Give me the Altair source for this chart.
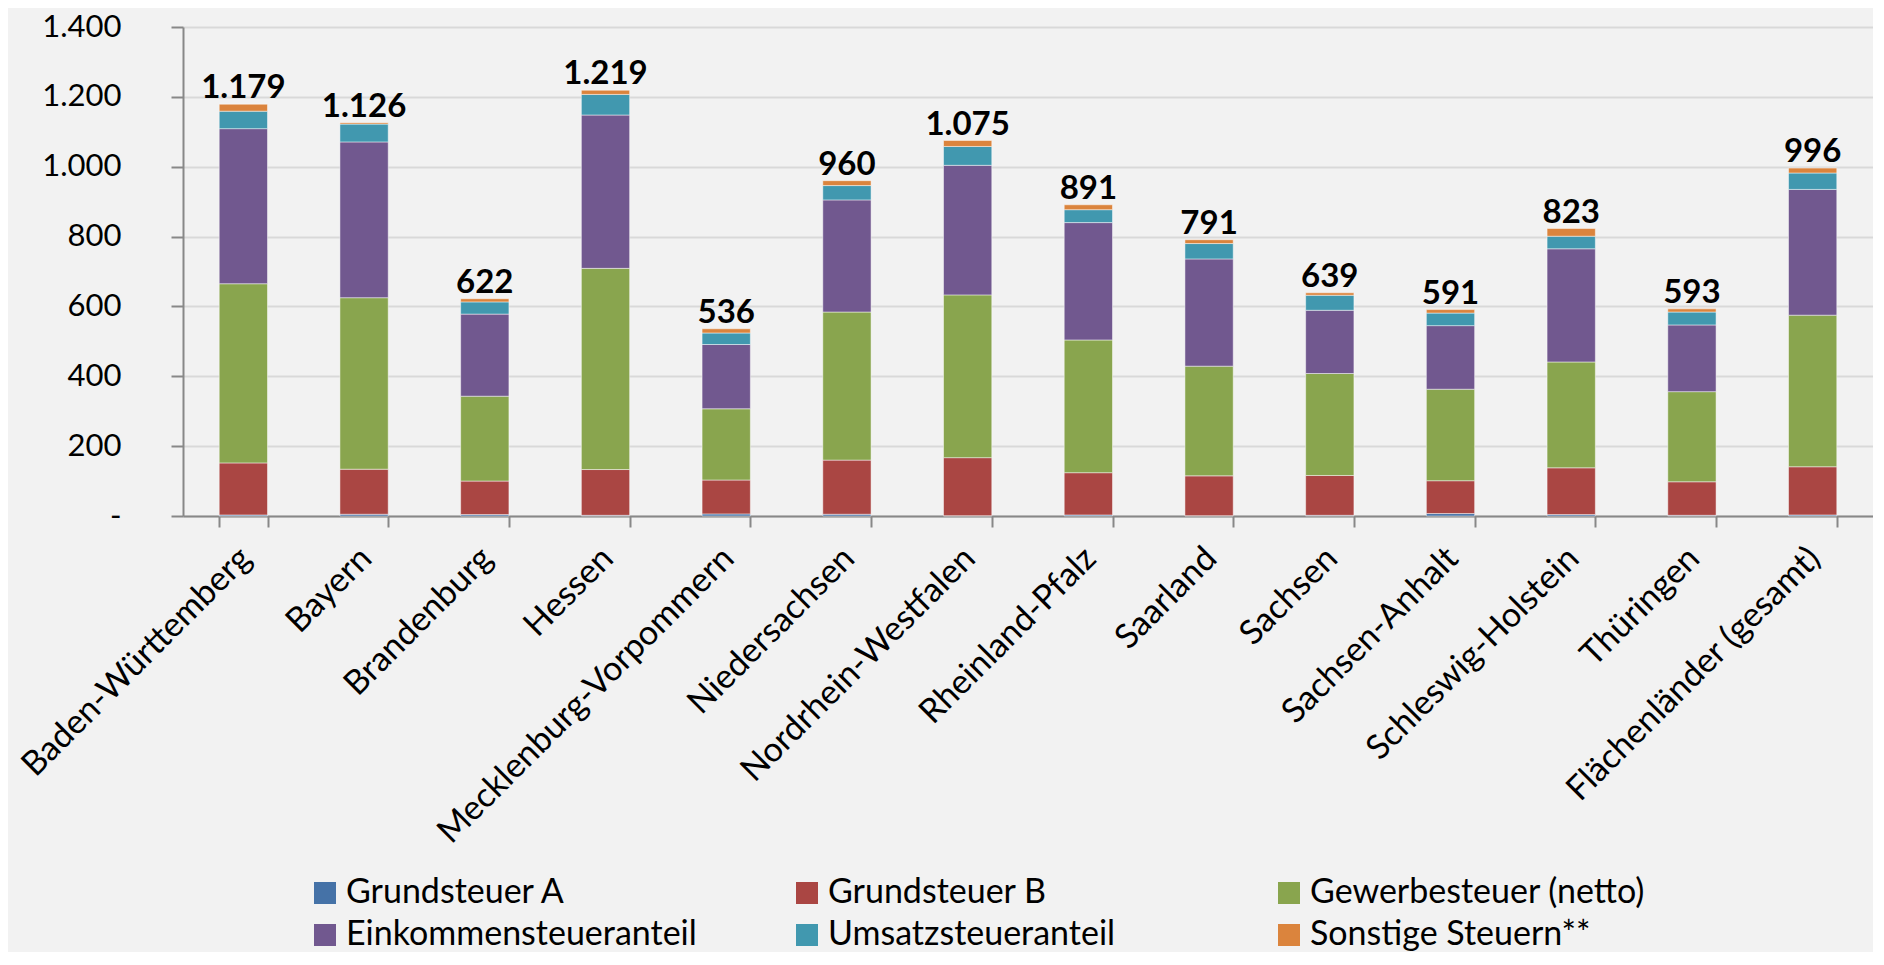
import altair as alt
import pandas as pd

laender = ["Baden-Württemberg", "Bayern", "Brandenburg", "Hessen",
           "Mecklenburg-Vorpommern", "Niedersachsen", "Nordrhein-Westfalen",
           "Rheinland-Pfalz", "Saarland", "Sachsen", "Sachsen-Anhalt",
           "Schleswig-Holstein", "Thüringen", "Flächenländer (gesamt)"]
steuern = ["Grundsteuer A", "Grundsteuer B", "Gewerbesteuer (netto)",
           "Einkommensteueranteil", "Umsatzsteueranteil", "Sonstige Steuern**"]
farben = ["#4572A7", "#AA4643", "#89A54E", "#71588F", "#4198AF", "#DB843D"]

grundsteuer_a = [3, 5, 4, 2, 6, 5, 1, 3, 1, 2, 7, 4, 2, 3]
grundsteuer_b = [149, 129, 96, 131, 97, 155, 166, 121, 114, 114, 94, 134, 96, 138]
gewerbesteuer = [513, 491, 243, 576, 204, 424, 466, 380, 314, 292, 262, 303, 258, 434]
einkommensteuer = [444, 446, 235, 439, 184, 321, 371, 336, 307, 181, 182, 324, 191, 360]
umsatzsteuer = [50, 51, 35, 59, 33, 41, 54, 37, 44, 43, 36, 36, 37, 47]
sonstige = [20, 4, 9, 12, 12, 14, 17, 14, 11, 7, 10, 22, 9, 14]
summen = [1179, 1126, 622, 1219, 536, 960, 1075, 891, 791, 639, 591, 823, 593, 996]

reihen = [grundsteuer_a, grundsteuer_b, gewerbesteuer, einkommensteuer, umsatzsteuer, sonstige]

rows = []
for si, (name, werte) in enumerate(zip(steuern, reihen)):
    for land, w in zip(laender, werte):
        rows.append({"Land": land, "Steuer": name, "Wert": w, "idx": si})
df = pd.DataFrame(rows)

df_sum = pd.DataFrame({
    "Land": laender,
    "Summe": summen,
    "Label": [f"{s:,}".replace(",", ".") for s in summen],
})

FONT = "Lato"

x_enc = alt.X(
    "Land:N", sort=laender,
    scale=alt.Scale(paddingInner=0.6, paddingOuter=0.3),
    axis=alt.Axis(title=None, labelAngle=-45, labelFontSize=34, labelPadding=14,
                  labelOffset=-10,
                  tickBand="extent", tickSize=11, tickWidth=2, tickColor="#888888",
                  domainColor="#888888", domainWidth=2, labelColor="#000000",
                  grid=False, labelFont=FONT, labelLimit=600),
)

bars = alt.Chart(df).mark_bar(stroke="#FFFFFF", strokeWidth=0.8, strokeOpacity=0.6).encode(
    x=x_enc,
    y=alt.Y("Wert:Q", stack="zero",
            scale=alt.Scale(domain=[0, 1400], nice=False),
            axis=alt.Axis(title=None, values=list(range(0, 1401, 200)),
                          labelExpr="datum.value == 0 ? '-' : replace(format(datum.value, ','), ',', '.')",
                          labelFontSize=31, labelFont=FONT, labelColor="#000000",
                          labelPadding=50, tickSize=12, tickWidth=2, tickColor="#888888",
                          domainColor="#888888", domainWidth=2,
                          gridColor="#D9D9D9", gridWidth=2)),
    color=alt.Color("Steuer:N", sort=steuern,
                    scale=alt.Scale(domain=steuern, range=farben),
                    legend=alt.Legend(title=None, orient="none", legendX=125, legendY=849,
                                      direction="horizontal", columns=3, gridAlign="all",
                                      symbolType="square", symbolSize=484, symbolStrokeWidth=0,
                                      labelFontSize=34, labelFont=FONT, labelColor="#000000",
                                      labelOffset=4, columnPadding=93, rowPadding=8,
                                      labelLimit=600)),
    order=alt.Order("idx:Q", sort="ascending"),
)

texts = alt.Chart(df_sum).mark_text(fontSize=33, fontWeight="bold", font=FONT,
                                    baseline="alphabetic", dy=-6, color="#000000").encode(
    x=alt.X("Land:N", sort=laender),
    y=alt.Y("Summe:Q"),
    text="Label:N",
)

chart = (bars + texts).properties(
    width=1690, height=489,
    autosize=alt.AutoSizeParams(type="none"),
    padding={"left": 175, "top": 19, "right": 0, "bottom": 436},
).configure(background="#F2F2F2").configure_view(stroke=None)

chart.save("out.html", embed_options={"renderer": "svg", "actions": False})
